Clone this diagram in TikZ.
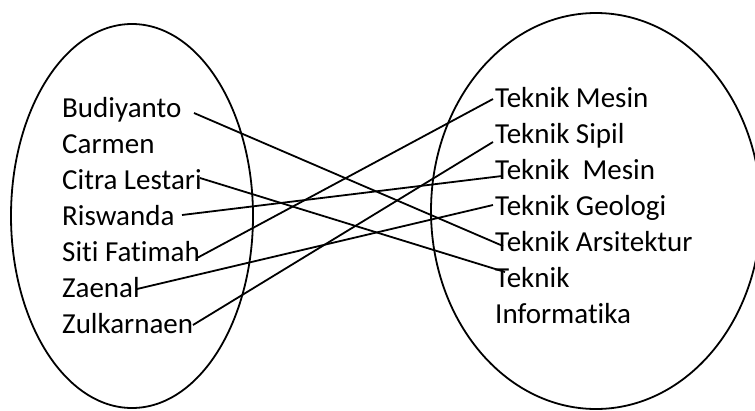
\documentclass[tikz,border=0pt]{standalone}
\usepackage{fontspec}
\setmainfont{Carlito}[Ligatures={NoCommon}]
\usetikzlibrary{calc}
\begin{document}
\begin{tikzpicture}[x=1pt,y=-1pt,
  lbl/.style={anchor=base west,inner sep=0pt,font=\fontsize{29}{35}\selectfont},
  link/.style={line width=1.8pt},
  setline/.style={draw,line width=1.8pt}]
\useasboundingbox (0,0) rectangle (755,410);
% sets
\draw[setline] (132,216) ellipse [x radius=121pt, y radius=192pt];
\draw[setline] (596,211) ellipse [x radius=165pt, y radius=198pt];
% left names
\node[lbl] (bud) at (62,117) {Budiyanto};
\node[lbl] (car) at (62,153) {Carmen};
\node[lbl] (cit) at (62,189) {Citra Lestari};
\node[lbl] (ris) at (62,225) {Riswanda};
\node[lbl] (sit) at (62,261) {Siti Fatimah};
\node[lbl] (zae) at (62,297) {Zaenal};
\node[lbl] (zul) at (62,333) {Zulkarnaen};
% right names
\node[lbl] (mes1) at (495,107) {Teknik Mesin};
\node[lbl] (sip) at (495,143) {Teknik Sipil};
\node[lbl] (mes2) at (495,179) {Teknik\ \ Mesin};
\node[lbl] (geo) at (495,215) {Teknik Geologi};
\node[lbl] (ars) at (495,251) {Teknik Arsitektur};
\node[lbl] (inf) at (495,287) {Teknik};
\node[lbl] (inf2) at (495,323) {Informatika};
% connectors
\draw[link] ($(bud.base west)+(132,-4)$) -- ($(ars.base west)+(8,-5)$);
\draw[link] ($(cit.base west)+(138,-11)$) -- ($(inf.base west)+(10,-15)$);
\draw[link] ($(ris.base west)+(120,-10)$) -- ($(mes2.base west)+(7,-3)$);
\draw[link] ($(sit.base west)+(135,-3)$) -- ($(mes1.base west)+(-2,-8)$);
\draw[link] ($(zae.base west)+(75,-8)$) -- ($(geo.base west)+(-2,-10)$);
\draw[link] ($(zul.base west)+(131,-8)$) -- ($(sip.base west)+(-2,-1)$);
\end{tikzpicture}
\end{document}
